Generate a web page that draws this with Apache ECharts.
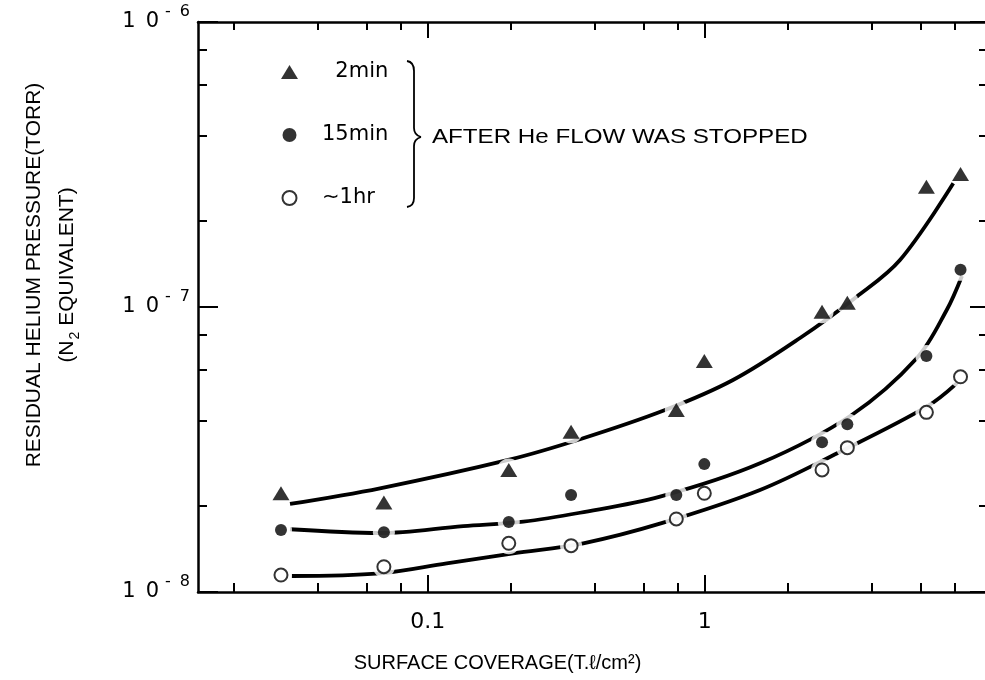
<!DOCTYPE html>
<html>
<head>
<meta charset="utf-8">
<script src="https://cdn.jsdelivr.net/npm/echarts@6/dist/echarts.min.js"></script>
<style>
  html, body { margin: 0; padding: 0; background: #fff; }
  #chart { width: 985px; height: 680px; }
</style>
</head>
<body>
<div id="chart"></div>
<script>
// Surface coverage (T·l/cm²) of each measurement
const coverage = [0.0295, 0.0694, 0.196, 0.329, 0.789, 0.996, 2.65, 3.27, 6.31, 8.38];

// Residual helium pressure (Torr, N2 equivalent) after the He flow was stopped
const pressure2min  = [2.22e-8, 2.06e-8, 2.68e-8, 3.65e-8, 4.35e-8, 6.47e-8, 9.63e-8, 1.035e-7, 2.64e-7, 2.93e-7];
const pressure15min = [1.65e-8, 1.62e-8, 1.76e-8, 2.19e-8, 2.19e-8, 2.81e-8, 3.35e-8, 3.88e-8, 6.73e-8, 1.35e-7];
const pressure1hr   = [1.147e-8, 1.227e-8, 1.482e-8, 1.454e-8, 1.804e-8, 2.22e-8, 2.68e-8, 3.21e-8, 4.27e-8, 5.69e-8];

// Hand-drawn trend curves through each set
const fit2minX  = [0.0318, 0.0672, 0.1953, 0.3543, 0.7184, 1.264, 2.207, 3.535, 5.066, 7.89];
const fit2minY  = [2.036e-8, 2.311e-8, 2.906e-8, 3.435e-8, 4.35e-8, 5.544e-8, 7.785e-8, 1.087e-7, 1.462e-7, 2.716e-7];
const fit15minX = [0.0318, 0.0672, 0.1343, 0.2212, 0.3543, 0.6893, 1.582, 3.391, 5.821, 7.47, 8.48];
const fit15minY = [1.66e-8, 1.611e-8, 1.704e-8, 1.765e-8, 1.897e-8, 2.16e-8, 2.828e-8, 4.18e-8, 6.607e-8, 9.76e-8, 1.285e-7];
const fit1hrX   = [0.03226, 0.0672, 0.117, 0.2036, 0.3641, 0.7083, 1.582, 3.033, 6.326, 8.12];
const fit1hrY   = [1.138e-8, 1.163e-8, 1.261e-8, 1.367e-8, 1.482e-8, 1.751e-8, 2.28e-8, 3.082e-8, 4.469e-8, 5.399e-8];

// Axis ranges and ticks
const xMin = 0.0148, xMax = 10.27;
const yMin = 1e-8, yMax = 1e-6;
const xMajorTicks = [0.1, 1];
const xTickLabels = ['0.1', '1'];
const xMinorTicks = [0.02, 0.04, 0.06, 0.08, 0.2, 0.4, 0.6, 0.8, 2, 4, 6, 8];
const yMajorTicks = [1e-8, 1e-7, 1e-6];
const yTickExponents = ['8', '7', '6'];
const yMinorTicks = [2e-8, 4e-8, 6e-8, 8e-8, 2e-7, 4e-7, 6e-7, 8e-7];

const seriesNames = ['2min', '15min', '\u223C1hr'];

const FONT = '"Liberation Sans", Arial, sans-serif';
const WIDE = '"DejaVu Sans", sans-serif';
const lg = v => Math.round(Math.log10(v) * 1e9) / 1e9;
const pairs = (xs, ys) => xs.map((x, i) => [x, ys[i]]);
const findIdx = (arr, v) => arr.findIndex(t => Math.abs(lg(t) - v) < 1e-6);

// Tick-only axes laid out in decade (log10) units on top of the log data axes
function tickXAxis(position, values, length, extra) {
  return Object.assign({
    type: 'value', position, min: lg(xMin), max: lg(xMax),
    axisLine: { show: false, onZero: false },
    axisTick: { show: true, inside: true, length, customValues: values.map(lg),
                lineStyle: { color: '#000', width: 2 } },
    axisLabel: { show: false },
    splitLine: { show: false }
  }, extra || {});
}
function tickYAxis(position, values, length, extra) {
  return Object.assign({
    type: 'value', position, min: lg(yMin), max: lg(yMax),
    axisLine: { show: false, onZero: false },
    axisTick: { show: true, inside: true, length, customValues: values.map(lg),
                lineStyle: { color: '#000', width: 2 } },
    axisLabel: { show: false },
    splitLine: { show: false }
  }, extra || {});
}

// Curly brace grouping the three legend entries
const braceStroke = { stroke: '#000', lineWidth: 1.8, fill: 'none' };
const brace = [
  { type: 'bezierCurve', shape: { x1: 407, y1: 61, x2: 414, y2: 71, cpx1: 414, cpy1: 62 } },
  { type: 'line', shape: { x1: 414, y1: 71, x2: 414, y2: 128 } },
  { type: 'bezierCurve', shape: { x1: 414, y1: 128, x2: 421, y2: 137, cpx1: 414, cpy1: 135 } },
  { type: 'bezierCurve', shape: { x1: 421, y1: 137, x2: 414, y2: 146, cpx1: 414, cpy1: 139 } },
  { type: 'line', shape: { x1: 414, y1: 146, x2: 414, y2: 198 } },
  { type: 'bezierCurve', shape: { x1: 414, y1: 198, x2: 407, y2: 207, cpx1: 414, cpy1: 206 } }
].map(el => Object.assign(el, { silent: true, style: braceStroke }));

const chart = echarts.init(document.getElementById('chart'), null, { renderer: 'canvas' });

const option = {
  animation: false,
  backgroundColor: '#fff',
  grid: { left: 198, right: 0, top: 22, bottom: 88 },
  legend: {
    data: seriesNames,
    orient: 'vertical',
    left: 281, top: 61, padding: 0,
    itemGap: 41, itemWidth: 17, itemHeight: 14,
    selectedMode: false,
    formatter: name => (name === '2min' ? '\u2007' + name : name),
    textStyle: { fontFamily: WIDE, fontSize: 21, color: '#000', lineHeight: 22, padding: [0, 0, 0, 19] }
  },
  xAxis: [
    {
      type: 'log', position: 'bottom', min: xMin, max: xMax,
      axisLine: { show: true, onZero: false, lineStyle: { color: '#000', width: 2.5 } },
      axisTick: { show: false }, axisLabel: { show: false }, splitLine: { show: false },
      name: 'SURFACE COVERAGE(T.\u2113/cm\u00B2)',
      nameLocation: 'middle', nameGap: 61,
      nameTextStyle: { fontFamily: FONT, fontSize: 20, color: '#000', padding: [0, 188, 0, 0] }
    },
    tickXAxis('bottom', xMajorTicks, 17, {
      axisLabel: {
        show: true, customValues: xMajorTicks.map(lg), margin: 19,
        fontFamily: WIDE, fontSize: 22, color: '#000',
        formatter: v => xTickLabels[findIdx(xMajorTicks, v)]
      }
    }),
    tickXAxis('bottom', xMinorTicks, 9),
    tickXAxis('top', xMajorTicks, 16, {
      axisLine: { show: true, onZero: false, lineStyle: { color: '#000', width: 2.5 } }
    }),
    tickXAxis('top', xMinorTicks, 8)
  ],
  yAxis: [
    {
      type: 'log', position: 'left', min: yMin, max: yMax,
      axisLine: { show: true, onZero: false, lineStyle: { color: '#000', width: 2.5 } },
      axisTick: { show: false }, axisLabel: { show: false }, splitLine: { show: false },
      name: '{a|RESIDUAL HELIUM PRESSURE(TORR)}\n{a|(N}{s|2}{a| EQUIVALENT)}',
      nameLocation: 'middle', nameRotate: 90, nameGap: 114,
      nameTextStyle: {
        fontFamily: FONT, color: '#000', padding: [0, 0, 0, 64],
        rich: {
          a: { fontFamily: FONT, fontSize: 21, lineHeight: 33, color: '#000' },
          s: { fontFamily: FONT, fontSize: 14, lineHeight: 14, verticalAlign: 'bottom', padding: [0, 0, 2, 1], color: '#000' }
        }
      }
    },
    tickYAxis('left', yMajorTicks, 20, {
      axisLabel: {
        show: true, customValues: yMajorTicks.map(lg), margin: 8,
        // "10" followed by a raised "-n" exponent
        formatter: v => '{d|1}{o|0}{m|-}{e|' + yTickExponents[findIdx(yMajorTicks, v)] + '}',
        rich: {
          d: { fontFamily: WIDE, fontSize: 21, lineHeight: 21, padding: [10, 0, 10, 0], color: '#000' },
          o: { fontFamily: WIDE, fontSize: 21, lineHeight: 21, padding: [10, 0, 10, 10], color: '#000' },
          m: { fontFamily: WIDE, fontSize: 16, lineHeight: 16, padding: [0, 0, 20, 6], color: '#000' },
          e: { fontFamily: WIDE, fontSize: 16, lineHeight: 16, padding: [0, 0, 20, 9], color: '#000' }
        }
      }
    }),
    tickYAxis('left', yMinorTicks, 9),
    tickYAxis('right', yMajorTicks, 15),
    tickYAxis('right', yMinorTicks, 6)
  ],
  graphic: [
    { type: 'group', silent: true, children: brace },
    {
      type: 'text', silent: true, x: 432, y: 137, scaleX: 1.15,
      style: { text: 'AFTER He FLOW WAS STOPPED', fontFamily: FONT, fontSize: 21, fill: '#000', verticalAlign: 'middle' }
    }
  ],
  series: [
    // trend curves (stacked so each set's white halo only interrupts its own curve)
    { name: 'trend ' + seriesNames[2], type: 'line', data: pairs(fit1hrX, fit1hrY), z: 1,
      showSymbol: false, symbol: 'none', smooth: 0.35, silent: true, lineStyle: { color: '#000', width: 3.8 } },
    { name: 'halo ' + seriesNames[2], type: 'scatter', data: pairs(coverage, pressure1hr), z: 2, silent: true,
      symbol: 'circle', symbolSize: 22, itemStyle: { color: '#fff' } },
    { name: 'trend ' + seriesNames[1], type: 'line', data: pairs(fit15minX, fit15minY), z: 3,
      showSymbol: false, symbol: 'none', smooth: 0.35, silent: true, lineStyle: { color: '#000', width: 3.8 } },
    { name: 'halo ' + seriesNames[1], type: 'scatter', data: pairs(coverage, pressure15min), z: 4, silent: true,
      symbol: 'circle', symbolSize: 22, itemStyle: { color: '#fff' } },
    { name: 'trend ' + seriesNames[0], type: 'line', data: pairs(fit2minX, fit2minY), z: 5,
      showSymbol: false, symbol: 'none', smooth: 0.35, silent: true, lineStyle: { color: '#000', width: 3.8 } },
    { name: 'halo ' + seriesNames[0], type: 'scatter', data: pairs(coverage, pressure2min), z: 6, silent: true,
      symbol: 'circle', symbolSize: 23, itemStyle: { color: '#fff' } },
    // measured points
    { name: seriesNames[0], type: 'scatter', data: pairs(coverage, pressure2min), z: 10,
      symbol: 'triangle', symbolSize: [17, 14], itemStyle: { color: '#000' } },
    { name: seriesNames[1], type: 'scatter', data: pairs(coverage, pressure15min), z: 10,
      symbol: 'circle', symbolSize: 12, itemStyle: { color: '#000' } },
    { name: seriesNames[2], type: 'scatter', data: pairs(coverage, pressure1hr), z: 10,
      symbol: 'circle', symbolSize: 13, itemStyle: { color: '#fff', borderColor: '#000', borderWidth: 2 } }
  ]
};

chart.setOption(option);
</script>
</body>
</html>
